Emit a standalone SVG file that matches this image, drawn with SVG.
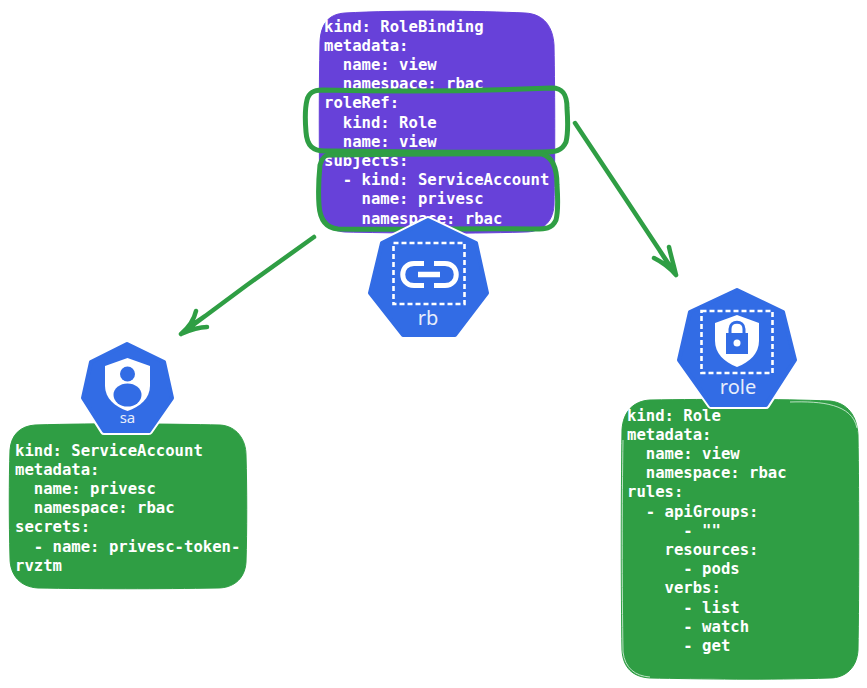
<svg xmlns="http://www.w3.org/2000/svg" width="867" height="688" viewBox="0 0 867 688">
<defs>
<polygon id="hept-rb" points="428,220 476,243 487,293 455,335 403,335 370,293 382,243"/>
<polygon id="hept-sa" points="127,344 164,362 172,398 149,431 104,431 83,398 91,362"/>
<polygon id="hept-role" points="737,290 783,312 795,360 766,405 711,405 679,360 690,312"/>
</defs>
<style>
.card{stroke-width:1}
.purple{fill:#6741d9;stroke:#6741d9}
.green{fill:#2f9e44;stroke:#2f9e44}
.sketch{fill:none;stroke:#dff3e4;stroke-width:1;opacity:.8}
.yaml{font-family:"DejaVu Sans Mono","Liberation Mono",monospace;font-size:15.6px;font-weight:700;fill:#fff;white-space:pre}
.halo{fill:#fff;stroke:#fff;stroke-width:8;stroke-linejoin:round}
.hex{fill:#326ce5;stroke:#326ce5;stroke-width:4;stroke-linejoin:round}
.dash{fill:none;stroke:#fff;stroke-width:2.600;stroke-dasharray:5 3}
.lbl{font-family:"Noto Sans","Liberation Sans",sans-serif;fill:#e6edfb;text-anchor:middle}
.ink{fill:none;stroke:#2f9e44;stroke-width:4.500;stroke-linecap:round;stroke-linejoin:round}
.inkb{fill:none;stroke:#2f9e44;stroke-width:5;stroke-linecap:round;stroke-linejoin:round}
</style>
<rect width="867" height="688" fill="#fff"/>
<g id="rolebinding-yaml">
<path class="card purple" d="M345 13C400 10 480 11 525 13C545 14 553 28 554 45C555 100 555 160 554 205C553 224 540 232 525 232C460 234 390 233 345 232C330 231 321 222 320 205C319 150 319 90 320 42C321 22 330 14 345 13Z"/>
<text class="yaml" x="324" y="31.500" xml:space="preserve">kind: RoleBinding</text>
<text class="yaml" x="324" y="50.700" xml:space="preserve">metadata:</text>
<text class="yaml" x="324" y="69.900" xml:space="preserve">  name: view</text>
<text class="yaml" x="324" y="89.100" xml:space="preserve">  namespace: rbac</text>
<text class="yaml" x="324" y="108.300" xml:space="preserve">roleRef:</text>
<text class="yaml" x="324" y="127.500" xml:space="preserve">  kind: Role</text>
<text class="yaml" x="324" y="146.700" xml:space="preserve">  name: view</text>
<text class="yaml" x="324" y="165.900" xml:space="preserve">subjects:</text>
<text class="yaml" x="324" y="185.100" xml:space="preserve">  - kind: ServiceAccount</text>
<text class="yaml" x="324" y="204.300" xml:space="preserve">    name: privesc</text>
<text class="yaml" x="324" y="223.500" xml:space="preserve">    namespace: rbac</text>
</g>
<g id="connectors">
<path class="inkb" d="M322 90C400 92 480 91 552 88C564 88 567 96 567 108C568 122 568 134 566 142C562 151 555 152 545 152C470 153 400 152 325 151C313 151 307 146 306 132C305 120 305 108 307 100C309 92 314 90 322 90Z"/>
<path class="inkb" d="M330 155C400 154 480 153 542 154C553 157 557 170 557 185C558 200 558 212 556 220C552 229 545 229 535 229C470 228 400 230 338 229C326 228 320 220 319 205C318 190 319 175 320 165C322 157 325 155 330 155Z"/>
<path class="ink" d="M314 237L247 285L181 334M181 334C188 328 194 320 196 311M181 334C190 330 198 327 207 327M186 329L205 316"/>
<path class="ink" d="M575 123L625 198L676 275M676 275C670 268 662 262 654 258M676 275C674 266 671 256 669 247M671 268L660 251"/>
</g>
<g id="rb">
<use href="#hept-rb" class="halo"/>
<use href="#hept-rb" class="hex"/>
<rect class="dash" x="393.500" y="243" width="71" height="61"/>
<path d="M424 263.500H414C399 263.500 399 285.500 414 285.500H424M434 263.500H445C460 263.500 460 285.500 445 285.500H434" fill="none" stroke="#fff" stroke-width="5"/>
<path d="M418 274.500H440" fill="none" stroke="#fff" stroke-width="5.500"/>
<text class="lbl" x="428" y="325" font-size="20">rb</text>
</g>
<g id="serviceaccount-yaml">
<path class="card green" d="M35 425C100 423 170 424 220 425C237 426 246 440 246 455C247 490 247 530 246 562C245 580 232 588 218 588C160 589 90 589 38 588C20 587 10 575 10 558C9 520 9 480 10 450C11 435 20 426 35 425Z"/>
<text class="yaml" x="15" y="455.500" xml:space="preserve">kind: ServiceAccount</text>
<text class="yaml" x="15" y="474.700" xml:space="preserve">metadata:</text>
<text class="yaml" x="15" y="493.900" xml:space="preserve">  name: privesc</text>
<text class="yaml" x="15" y="513.100" xml:space="preserve">  namespace: rbac</text>
<text class="yaml" x="15" y="532.300" xml:space="preserve">secrets:</text>
<text class="yaml" x="15" y="551.500" xml:space="preserve">  - name: privesc-token-</text>
<text class="yaml" x="15" y="570.700" xml:space="preserve">rvztm</text>
</g>
<g id="sa">
<use href="#hept-sa" class="halo"/>
<use href="#hept-sa" class="hex"/>
<path d="M105 366L127.500 358L150 366V386C150 398 140 407 127.500 411C115 407 105 398 105 386Z" fill="#fff"/>
<circle cx="127.500" cy="374" r="7.500" fill="#326ce5"/>
<ellipse cx="127.500" cy="395" rx="14" ry="11.500" fill="#326ce5"/>
<text class="lbl" x="127.500" y="423" font-size="15">sa</text>
</g>
<g id="role-yaml">
<path class="card green" d="M650 400C710 399 780 399 830 401C848 403 857 416 858 435C859 500 859 590 858 650C857 668 845 678 830 678C770 680 700 679 650 678C633 677 623 668 622 650C621 590 621 500 622 430C623 412 633 401 650 400Z"/>
<path class="sketch" d="M790 402C822 401 852 404 857 428M623 440C622 500 622 590 623 652C625 668 635 676 650 677"/>
<text class="yaml" x="627" y="420.500" xml:space="preserve">kind: Role</text>
<text class="yaml" x="627" y="439.700" xml:space="preserve">metadata:</text>
<text class="yaml" x="627" y="458.900" xml:space="preserve">  name: view</text>
<text class="yaml" x="627" y="478.100" xml:space="preserve">  namespace: rbac</text>
<text class="yaml" x="627" y="497.300" xml:space="preserve">rules:</text>
<text class="yaml" x="627" y="516.500" xml:space="preserve">  - apiGroups:</text>
<text class="yaml" x="627" y="535.700" xml:space="preserve">      - ""</text>
<text class="yaml" x="627" y="554.900" xml:space="preserve">    resources:</text>
<text class="yaml" x="627" y="574.100" xml:space="preserve">      - pods</text>
<text class="yaml" x="627" y="593.300" xml:space="preserve">    verbs:</text>
<text class="yaml" x="627" y="612.500" xml:space="preserve">      - list</text>
<text class="yaml" x="627" y="631.700" xml:space="preserve">      - watch</text>
<text class="yaml" x="627" y="650.900" xml:space="preserve">      - get</text>
</g>
<g id="role">
<use href="#hept-role" class="halo"/>
<use href="#hept-role" class="hex"/>
<rect class="dash" x="701.500" y="311" width="71" height="62"/>
<path d="M715 323L737 315L759 323V341C759 353 750 362 737 367C724 362 715 353 715 341Z" fill="#fff"/>
<rect x="726" y="333" width="22" height="21" fill="#326ce5"/>
<path d="M730 334V329C730 320 744 320 744 329V334" fill="none" stroke="#326ce5" stroke-width="3"/>
<circle cx="737" cy="343" r="3.500" fill="#fff"/>
<text class="lbl" x="738" y="394" font-size="20">role</text>
</g>
</svg>
